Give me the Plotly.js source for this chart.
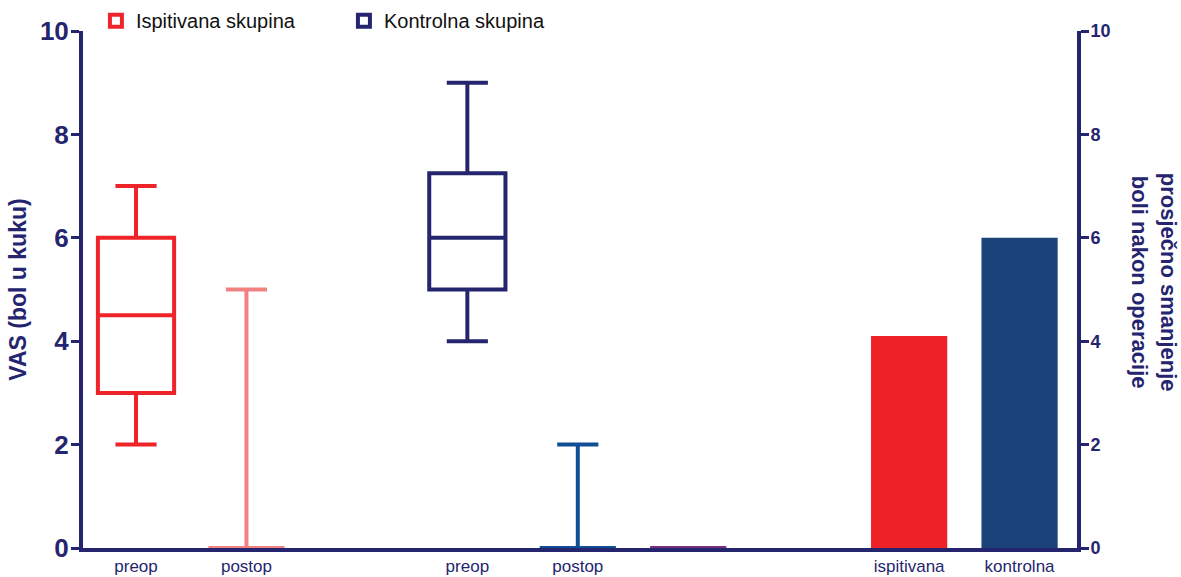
<!DOCTYPE html>
<html>
<head>
<meta charset="utf-8">
<script src="https://cdn.plot.ly/plotly-3.0.1.min.js"></script>
<style>html,body{margin:0;padding:0;background:#fff;}#chart{width:1181px;height:577px;}</style>
</head>
<body>
<div id="chart"></div>
<script>
// ---- data ----
const tickLabels = ['preop', 'postop', 'preop', 'postop', '', 'ispitivana', 'kontrolna'];
const groupNames = ['Ispitivana skupina', 'Kontrolna skupina'];

// box statistics (VAS, left axis): ispitivana preop, ispitivana postop, kontrolna preop, kontrolna postop, extra
const boxMin    = [2, 0, 4, 0, 0];
const boxQ1     = [3, 0, 5, 0, 0];
const boxMedian = [4.5, 0, 6, 0, 0];
const boxQ3     = [6, 0, 7.25, 0, 0];
const boxMax    = [7, 5, 9, 2, 0];

// mean pain reduction (right axis)
const barLabels = ['ispitivana', 'kontrolna'];
const barValues = [4.1, 6.0];

// ---- layout helpers ----
const slots = [0, 1, 3, 4, 5, 7, 8];
const boxColors = ['#ee2428', '#f28282', '#25256f', '#0f4e95', '#7b2e7c'];
const barColors = ['#ee2226', '#1b4279'];
const navy = '#25256f';
const FONT = 'Liberation Sans, Arial, sans-serif';

const traces = [];
for (let i = 0; i < boxMin.length; i++) {
  const legendIdx = i === 0 ? 0 : (i === 2 ? 1 : -1);
  traces.push({
    type: 'box',
    x: [slots[i]],
    lowerfence: [boxMin[i]],
    q1: [boxQ1[i]],
    median: [boxMedian[i]],
    q3: [boxQ3[i]],
    upperfence: [boxMax[i]],
    width: 0.69,
    whiskerwidth: 0.54,
    boxpoints: false,
    line: {color: boxColors[i], width: 4},
    fillcolor: 'rgba(255,255,255,0)',
    name: legendIdx >= 0 ? groupNames[legendIdx] : tickLabels[i],
    showlegend: legendIdx >= 0,
    hoverinfo: 'skip',
    yaxis: 'y'
  });
}
traces.push({
  type: 'bar',
  x: [slots[5], slots[6]],
  y: barValues,
  width: 0.69,
  marker: {color: barColors, line: {width: 0}},
  text: barLabels,
  textposition: 'none',
  showlegend: false,
  yaxis: 'y2'
});

const layout = {
  width: 1181,
  height: 577,
  paper_bgcolor: '#ffffff',
  plot_bgcolor: '#ffffff',
  margin: {l: 83, r: 104, t: 31, b: 29, autoexpand: false},
  showlegend: true,
  legend: {
    orientation: 'h',
    x: 0.013, xanchor: 'left',
    y: 1.02, yanchor: 'middle',
    font: {family: FONT, size: 20, color: '#111111'},
    entrywidth: 203,
    bgcolor: 'rgba(0,0,0,0)'
  },
  xaxis: {
    range: [-0.48, 8.52],
    tickvals: slots,
    ticktext: tickLabels,
    ticks: '',
    showline: true, linewidth: 4, linecolor: navy,
    showgrid: false, zeroline: false,
    layer: 'below traces',
    tickfont: {family: FONT, size: 17, color: navy}
  },
  yaxis: {
    range: [0, 10], dtick: 2,
    ticks: 'outside', ticklen: 8, tickwidth: 3, tickcolor: navy,
    ticklabelstandoff: -3,
    showline: true, linewidth: 4, linecolor: navy,
    showgrid: false, zeroline: false,
    tickfont: {family: FONT, size: 26, color: navy, weight: 'bold'},
    title: {text: 'VAS (bol u kuku)', font: {family: FONT, size: 23, color: navy, weight: 'bold'}, standoff: 8}
  },
  yaxis2: {
    range: [0, 10], dtick: 2,
    overlaying: 'y', side: 'right',
    ticks: 'outside', ticklen: 8, tickwidth: 3, tickcolor: navy,
    ticklabelstandoff: -2,
    showline: true, linewidth: 4, linecolor: navy,
    showgrid: false, zeroline: false,
    tickfont: {family: FONT, size: 18, color: navy, weight: 'bold'}
  },
  annotations: [{
    text: 'prosječno smanjenje<br>boli nakon operacije',
    xref: 'paper', yref: 'paper',
    x: 1.0775, y: 0.515, xanchor: 'center', yanchor: 'middle',
    textangle: 90, showarrow: false,
    font: {family: FONT, size: 22, color: navy, weight: 'bold'}
  }]
};

Plotly.newPlot('chart', traces, layout, {displayModeBar: false, staticPlot: true});
</script>
</body>
</html>
